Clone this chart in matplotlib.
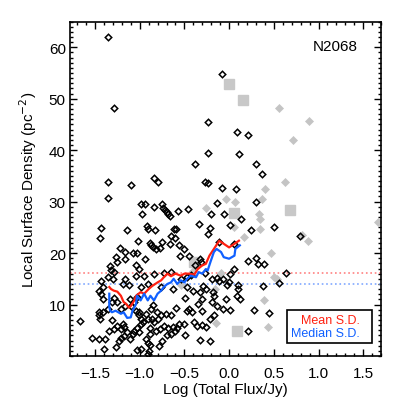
import numpy as np
import matplotlib
matplotlib.use('Agg')
from matplotlib import pyplot as plt
from matplotlib.patches import Rectangle
from matplotlib.ticker import MultipleLocator

plt.rcParams['font.family'] = ['Liberation Sans', 'DejaVu Sans']

# Black open diamonds (log flux, local surface density)
black_x = [-1.36, -1.29, -0.08, -0.24, 0.09, 0.21, -0.24, 0.11, -0.38, 0.30,
           0.37, -1.36, -1.10, -0.84, -0.79, -0.27, -0.24, -0.08, 0.08, -1.36,
           -0.98, -0.94, -0.75, -0.14, 0.30, -0.84, -0.74, -0.72, -0.70, -0.68,
           -0.66, -0.57, -0.46, -0.97, -0.06, -0.20, 0.13, -0.34, 0.01, -0.92,
           -0.91, -1.43, -0.21, -0.83, -1.14, -0.62, -0.59, 0.24, 0.50, -1.44,
           -0.24, -0.65, 0.79, -1.02, -0.89, -0.87, -0.85, -0.77, -0.82, -1.07,
           -1.03, -0.94, -1.22, -1.16, -1.16, -0.66, -0.60, -0.56, -0.50, -0.45,
           -0.33, -0.31, -0.55, -0.75, -0.11, 0.06, 0.30, 0.32, 0.39, 0.21,
           -1.26, -1.25, -1.33, -1.32, -1.29, -1.04, -1.01, -0.38, -0.27, 0.01,
           0.06, 0.00, 0.10, 0.10, 0.38, 0.56, 0.64, 0.01, 0.09, 0.12,
           0.21, 0.28, 0.45,
           -1.67, -1.53, -1.46, -1.39, -1.40, -1.43, -1.46, -1.43, -1.41, -1.41,
           -1.36, -1.30, -1.46, -1.41, -1.44, -1.46, -1.35, -1.31, -1.34, -1.29,
           -1.25, -1.21, -1.19, -1.17, -1.14, -1.27, -1.23, -1.21, -1.18, -1.11,
           -1.08, -1.06, -1.03, -1.01, -0.98, -0.99, -1.01, -0.96, -0.93, -0.91,
           -0.89, -0.88, -0.93, -0.91, -0.88, -0.98, -1.03, -0.91, -0.90, -0.78,
           -0.75, -0.69, -0.65, -0.82, -0.77, -0.73, -0.68, -0.63, -0.60, -0.58,
           -0.56, -0.50, -0.49, -0.47, -0.45, -0.41, -0.39, -0.36, -0.30, -0.32,
           -0.26, -0.21, -0.17, -0.30, -0.35, -0.49, -0.59, -0.65, -0.71, -0.76,
           -0.79, -0.84, -0.86, -0.81, -0.87, -0.85, -1.01, -1.04, -1.06, -1.03,
           -1.10, -1.11, -1.16, -1.21, -1.25, -1.29, -1.31, -0.32, -0.30, -0.26,
           -0.19, -0.18, -0.17, -0.19, -0.13, -0.07, -0.07, -0.03, -0.21, -0.02,
           -0.29, -0.47, -0.63, -0.76, -0.99, -0.91, -1.12, -1.19, -1.16, -1.04,
           -0.95, -0.84, -0.73, -0.65, -0.54, -0.47, -0.43, -0.13, -0.11, -0.40]
black_y = [61.9, 48.2, 54.8, 45.4, 43.5, 43.0, 39.5, 39.2, 37.4, 37.4,
           35.3, 33.9, 33.3, 34.6, 33.9, 33.8, 33.6, 32.7, 32.5, 30.7,
           29.6, 29.6, 29.6, 29.7, 29.9, 29.0, 28.8, 28.3, 27.9, 27.6,
           27.3, 28.1, 28.5, 27.5, 27.6, 27.6, 26.6, 25.7, 25.4, 25.2,
           24.6, 24.8, 24.8, 24.5, 24.5, 24.7, 24.7, 24.5, 25.0, 23.0,
           23.7, 23.4, 23.4, 22.3, 22.0, 21.5, 21.1, 21.0, 20.8, 20.0,
           20.0, 18.9, 20.9, 20.2, 18.9, 21.8, 22.9, 21.6, 20.7, 19.5,
           18.9, 18.2, 19.5, 22.1, 22.1, 21.8, 19.1, 17.9, 17.8, 18.4,
           19.3, 18.2, 17.4, 16.8, 16.3, 17.6, 16.9, 17.6, 16.1, 15.9,
           16.9, 14.3, 13.8, 13.0, 13.6, 14.1, 16.2, 8.9, 11.6, 11.1,
           4.8, 9.0, 8.4,
           6.8, 3.5, 3.3, 3.3, 1.4, 14.5, 12.7, 12.1, 11.0, 13.5,
           15.3, 15.0, 8.6, 8.5, 7.2, 7.9, 9.2, 6.9, 4.9, 5.3,
           5.8, 5.3, 6.2, 5.6, 4.6, 1.7, 3.0, 3.5, 3.8, 3.3,
           4.3, 4.8, 5.4, 4.6, 6.2, 7.2, 7.9, 6.6, 8.2, 7.2,
           5.4, 4.3, 3.3, 2.6, 2.2, 1.4, 1.1, 0.4, 0.9, 1.9,
           3.0, 4.0, 4.3, 4.9, 5.3, 5.8, 5.4, 5.6, 4.9, 5.4,
           6.2, 6.2, 4.0, 8.8, 9.2, 8.5, 6.6, 5.9, 6.0, 3.2,
           5.6, 7.2, 7.9, 8.8, 10.1, 11.2, 9.3, 7.9, 8.2, 7.9,
           7.2, 6.6, 7.2, 8.5, 9.2, 9.9, 8.5, 8.8, 10.5, 11.4,
           9.8, 11.1, 9.8, 9.2, 10.5, 11.2, 10.5, 12.4, 11.1, 13.0,
           15.0, 12.4, 11.7, 10.5, 9.8, 15.0, 9.2, 11.1, 3.0, 13.7,
           13.6, 13.4, 13.0, 13.4, 13.4, 14.0, 13.7, 14.0, 15.0, 15.6,
           15.6, 16.0, 16.2, 16.4, 15.0, 15.3, 15.8, 15.2, 14.6, 12.6]

# Grey filled diamonds
grey_x = [0.56, 0.89, 0.72, 0.62, 0.40, 0.37, -0.03, 0.07, -0.26, 0.33,
          0.35, 1.66, 0.06, 0.35, 0.17, 0.82, 0.88, 0.47, -0.40, -0.09,
          0.50, 0.54, 0.39, 0.43, -0.15, -0.54, -0.16]
grey_y = [48.1, 45.7, 41.9, 33.8, 32.5, 30.6, 30.6, 30.0, 28.7, 27.6,
          26.6, 26.0, 25.0, 24.7, 23.1, 23.5, 22.3, 20.0, 16.6, 16.2,
          15.3, 15.0, 10.8, 5.6, 6.4, 13.7, 13.0]

# Grey filled squares
sq_x = [0.00, 0.15, 0.05, 0.68, 0.09, -0.39]
sq_y = [52.8, 49.8, 27.8, 28.3, 4.8, 18.2]

# Running mean / median of the surface density
mean_x = [-1.34, -1.32, -1.29, -1.25, -1.21, -1.18, -1.15, -1.12, -1.10, -1.06,
          -1.04, -0.99, -0.95, -0.90, -0.86, -0.80, -0.76, -0.73, -0.69, -0.65,
          -0.60, -0.54, -0.50, -0.45, -0.39, -0.35, -0.30, -0.26, -0.22, -0.17,
          -0.11, -0.06, 0.00, 0.06, 0.11]
mean_y = [13.4, 13.0, 12.7, 12.5, 11.7, 10.5, 10.1, 9.4, 9.7, 10.8,
          11.7, 12.4, 12.1, 13.0, 13.6, 14.3, 14.7, 15.3, 16.0, 15.5,
          16.0, 15.6, 16.0, 16.0, 15.8, 16.9, 17.6, 17.9, 19.5, 20.8,
          22.4, 21.8, 21.1, 21.8, 22.4]

median_x = [-1.34, -1.34, -1.33, -1.31, -1.27, -1.21, -1.18, -1.14, -1.10, -1.08,
            -1.04, -1.03, -0.99, -0.95, -0.91, -0.88, -0.84, -0.80, -0.76, -0.73,
            -0.69, -0.65, -0.62, -0.58, -0.54, -0.50, -0.47, -0.43, -0.37, -0.34,
            -0.30, -0.26, -0.24, -0.21, -0.17, -0.14, -0.09, -0.06, 0.00, 0.06,
            0.07, 0.12]
median_y = [12.1, 9.5, 8.8, 8.5, 8.8, 8.2, 8.5, 7.4, 7.5, 8.8,
            10.1, 11.7, 10.8, 12.1, 10.8, 11.7, 10.8, 12.1, 12.7, 13.4,
            14.0, 14.3, 15.0, 14.0, 14.7, 14.3, 15.0, 15.6, 15.3, 16.3,
            16.0, 16.9, 16.6, 18.2, 20.2, 20.8, 20.2, 19.2, 18.9, 19.5,
            20.8, 21.5]

mean_sd = 16.2
median_sd = 13.9

fig = plt.figure(figsize=(4.02, 4.02), dpi=100)
ax = fig.add_axes([0.174, 0.112, 0.774, 0.832])

ax.axhline(mean_sd, color='#ff8080', ls=':', lw=1.2)
ax.axhline(median_sd, color='#80a8ff', ls=':', lw=1.2)

ax.plot(grey_x, grey_y, 'D', ms=4.2, mfc='#c4c4c4', mec='#c4c4c4', mew=0.5, ls='none')
ax.plot(sq_x, sq_y, 's', ms=6.5, mfc='#c8c8c8', mec='#c8c8c8', ls='none')
ax.plot(black_x, black_y, 'D', ms=3.3, mfc='none', mec='black', mew=1.1, ls='none')

ax.plot(mean_x, mean_y, color='#ff2010', lw=1.6)
ax.plot(median_x, median_y, color='#1060ff', lw=1.6)

ax.set_xlim(-1.78, 1.70)
ax.set_ylim(0, 65)
ax.xaxis.set_major_locator(MultipleLocator(0.5))
ax.xaxis.set_minor_locator(MultipleLocator(0.1))
ax.yaxis.set_minor_locator(MultipleLocator(1))
ax.set_yticks([10, 20, 30, 40, 50, 60])
ax.tick_params(which='both', direction='in', top=True, right=True, width=1.0)
ax.tick_params(which='major', length=5, labelsize=11)
ax.tick_params(axis='x', which='major', pad=7)
ax.tick_params(axis='y', which='major', pad=3)
ax.tick_params(which='minor', length=2.5)
for s in ax.spines.values():
    s.set_linewidth(1.2)

ax.set_xlabel('Log (Total Flux/Jy)', fontsize=11, labelpad=2)
ax.set_ylabel('Local Surface Density (pc$^{-2}$)', fontsize=11, labelpad=7)

ax.text(0.924, 0.928, 'N2068', transform=ax.transAxes, ha='right', va='center', fontsize=11)

ax.add_patch(Rectangle((0.699, 0.039), 0.271, 0.099, transform=ax.transAxes,
                       fill=False, ec='black', lw=1.2))
ax.text(0.932, 0.109, 'Mean S.D.', color='#ff2010', transform=ax.transAxes,
        ha='right', va='center', fontsize=9)
ax.text(0.932, 0.069, 'Median S.D.', color='#1060ff', transform=ax.transAxes,
        ha='right', va='center', fontsize=9)

plt.savefig('out.png', dpi=100)
